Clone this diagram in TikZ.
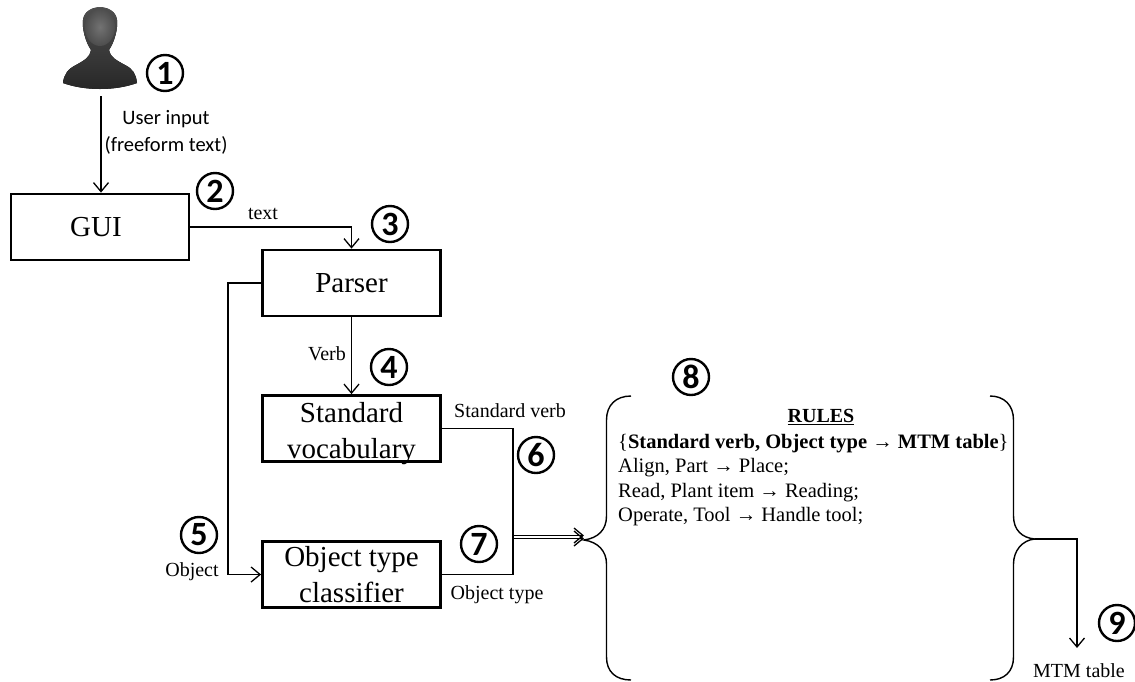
\documentclass[tikz,border=0pt]{standalone}
\usepackage{fontspec}
\setmainfont{Liberation Serif}
\newfontfamily\labelfont{Carlito}
\usetikzlibrary{arrows.meta}
\tikzset{
    block/.style={draw, line width=2.8pt, minimum width=178pt, minimum height=66pt, inner sep=0pt, align=center, font=\fontsize{29}{36}\selectfont},
    num/.style={draw, circle, line width=2.4pt, minimum size=36pt, inner sep=0pt, font=\labelfont\fontsize{34}{34}\selectfont\bfseries},
    small/.style={inner sep=0pt, font=\fontsize{20}{24}\selectfont},
    rule/.style={inner sep=0pt, anchor=base west, font=\fontsize{20.5}{24}\selectfont},
    flow/.style={line width=1.3pt, -{Straight Barb[length=9pt,width=15pt,line width=1.3pt]}},
    bracket/.style={line width=1.4pt}
}
\begin{document}
\begin{tikzpicture}[x=1pt, y=-1pt]
    \useasboundingbox (0,0) rectangle (1135,681);

    % User
    \fill[top color=black!68, bottom color=black!85]
        (63,83) .. controls (64,74) and (68,69) .. (76,65)
        .. controls (85,60) and (90,57) .. (91,50)
        .. controls (85,41) and (82,28) .. (83,20)
        .. controls (85,3) and (115,3) .. (117,20)
        .. controls (118,28) and (115,41) .. (109,50)
        .. controls (110,57) and (116,60) .. (125,65)
        .. controls (133,69) and (136,74) .. (137,83)
        .. controls (115,91) and (85,91) .. (63,83) -- cycle;
    \shade[inner color=black!55, outer color=black!70] (100,27) ellipse (15 and 19);
    \coordinate (user) at (101,96);

    % Boxes
    \node[block] (gui) at (100,227) {\raisebox{-2pt}{GUI}\hspace{8pt}};
    \node[block] (parser) at (351.5,283) {Parser};
    \node[block] (vocab) at (351.5,428.5) {\smash{\raisebox{-12pt}{Standard}}\\\smash{\raisebox{-12pt}{vocabulary}}};
    \node[block] (classifier) at (351.5,574.5) {Object type\\classifier};

    % Connectors
    \coordinate (join) at (513,537);
    \coordinate (ruleleft) at (584,537);
    \coordinate (ruleright) at (1035,539);
    \coordinate (output) at (1077,648);
    \draw[flow] (user) -- (gui.north -| user);
    \draw[flow] (gui.east) -| (parser.north);
    \draw[flow] (parser.south) -- (vocab.north);
    \draw[flow] (parser.west) -- ++(-33,0) |- (classifier.west);
    \draw[flow] (vocab.east) -| ([yshift=-1.5pt]join) -- ([yshift=-1.5pt]ruleleft);
    \draw[flow] (classifier.east) -| ([yshift=1.5pt]join) -- ([yshift=1.5pt]ruleleft);
    \draw[flow] (ruleright) -| (output);

    % Rule brackets
    \draw[bracket] (631,396) .. controls (616,396) and (606.5,405) .. (606.5,420)
        -- (606.5,516) .. controls (606.5,530) and (598,538) .. (584,540)
        .. controls (598,542) and (606.5,551) .. (606.5,564)
        -- (606.5,657) .. controls (606.5,672) and (616,680) .. (631,680);
    \draw[bracket] (990,396) .. controls (1004,396) and (1013.5,405) .. (1013.5,420)
        -- (1013.5,516) .. controls (1013.5,530) and (1022,538) .. (1035,539)
        .. controls (1022,540) and (1013.5,551) .. (1013.5,564)
        -- (1013.5,657) .. controls (1013.5,672) and (1004,680) .. (990,680);

    % Rules
    \node[small, font=\fontsize{20}{24}\selectfont\bfseries] (title) at (821,417) {\underline{RULES}};
    \node[rule] (head) at (618,448) {\{\textbf{Standard verb, Object type → MTM table}\}};
    \node[rule] (align) at (618,472.5) {Align, Part → Place;};
    \node[rule] (read) at (618,497.5) {Read, Plant item → Reading;};
    \node[rule] (operate) at (618,521.5) {Operate, Tool → Handle tool;};

    % Labels
    \node[small, font=\labelfont\fontsize{20.5}{24}\selectfont] (input) at (166,119) {User input};
    \node[small, font=\labelfont\fontsize{20.5}{24}\selectfont] (freeform) at (166,145) {(freeform text)};
    \node[small] (text) at (263,214) {text};
    \node[small] (verb) at (327,354) {Verb};
    \node[small] (stdverb) at (510,411) {Standard verb};
    \node[small] (object) at (192,572) {Object};
    \node[small] (objtype) at (497,595) {Object type};
    \node[small] (mtm) at (1079,671) {MTM table};

    % Numbers
    \node[num] (n1) at (165,73) {1};
    \node[num] (n2) at (215,191) {2};
    \node[num] (n3) at (390,224) {3};
    \node[num] (n4) at (389,367) {4};
    \node[num] (n5) at (199,535) {5};
    \node[num] (n6) at (536,455) {6};
    \node[num] (n7) at (479,544) {7};
    \node[num] (n8) at (691,377) {8};
    \node[num] (n9) at (1117,623) {9};
\end{tikzpicture}
\end{document}
